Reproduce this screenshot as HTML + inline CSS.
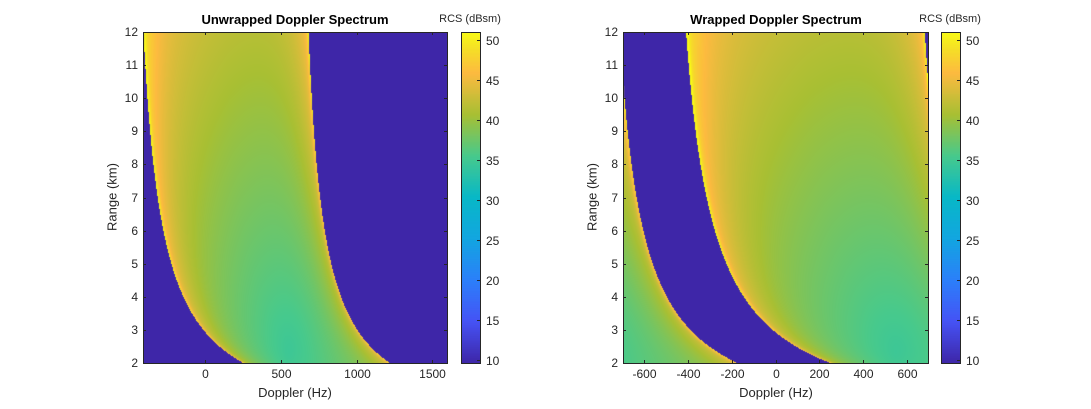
<!DOCTYPE html>
<html><head><meta charset="utf-8"><style>
html,body{margin:0;padding:0;background:#fff;}
#w{position:relative;width:1091px;height:409px;overflow:hidden;font-family:"Liberation Sans",Arial,sans-serif;color:#262626;}
canvas{position:absolute;}
.t{position:absolute;font-size:12px;white-space:nowrap;}
.ttl{position:absolute;font-size:13px;font-weight:bold;color:#000;white-space:nowrap;transform:translateX(-50%);}
.lab{position:absolute;font-size:13px;white-space:nowrap;transform:translateX(-50%);}
.yl{position:absolute;font-size:13px;white-space:nowrap;transform:translate(-50%,-50%) rotate(-90deg);}
.cbt{position:absolute;font-size:11px;white-space:nowrap;transform:translateX(-50%);}
</style></head><body><div id="w">
<canvas id="c1" style="left:143px;top:32px" width="304" height="331"></canvas>
<canvas id="c2" style="left:623px;top:32px" width="305" height="331"></canvas>
<canvas id="b1" style="left:461px;top:32px" width="19" height="331"></canvas>
<canvas id="b2" style="left:941px;top:32px" width="19" height="331"></canvas>
<svg id="ov" style="position:absolute;left:0;top:0" width="1091" height="409"></svg>
<div class="ttl" style="left:295px;top:12px">Unwrapped Doppler Spectrum</div>
<div class="ttl" style="left:776px;top:12px">Wrapped Doppler Spectrum</div>
<div class="cbt" style="left:470px;top:13px">RCS (dBsm)</div>
<div class="cbt" style="left:950px;top:13px">RCS (dBsm)</div>
<div class="lab" style="left:295px;top:385px">Doppler (Hz)</div>
<div class="lab" style="left:776px;top:385px">Doppler (Hz)</div>
<div class="yl" style="left:112px;top:197px">Range (km)</div>
<div class="yl" style="left:592px;top:197px">Range (km)</div>
<div id="labs"></div>
</div>
<script>
var stops=[[0,.2422,.1504,.6603],[.125,.2717,.3246,.9602],[.25,.17,.50,.98],[.375,.07,.65,.88],[.5,.03,.72,.78],[.625,.28,.79,.55],[.75,.66,.75,.20],[.875,.99,.73,.25],[.95,.96,.88,.15],[1,.977,.984,.081]];
function cmap(t){t=Math.max(0,Math.min(1,t));for(var i=1;i<stops.length;i++){if(t<=stops[i][0]){var a=stops[i-1],b=stops[i],u=(t-a[0])/(b[0]-a[0]);return [255*(a[1]+u*(b[1]-a[1])),255*(a[2]+u*(b[2]-a[2])),255*(a[3]+u*(b[3]-a[3]))];}}return [249,251,21];}
var VMIN=9.6,VMAX=51;
function Lf(r){return -541+1585/r;}
function Rf(r){return 575+1290/r;}
function val(f,r){var L=Lf(r),R=Rf(r);if(f<L||f>R)return null;var d=Math.min(f-L,R-f);
var base=34.5+6.8*Math.sqrt(Math.pow((f-550)/900,2)+Math.pow((r-2.3)/10,2));
return base+6*Math.exp(-d/8)+5*Math.exp(-d/110);}
function draw(id,fmin,fmax,wrap){var c=document.getElementById(id),ctx=c.getContext('2d'),W=c.width,H=c.height,img=ctx.createImageData(W,H),D=img.data;
for(var y=0;y<H;y++){var r=12-(y+0.5)/H*10;for(var x=0;x<W;x++){var f=fmin+(x+0.5)/W*(fmax-fmin);var v=null;
if(wrap){for(var k=-2;k<=2;k++){var vv=val(f+k*1394,r);if(vv!==null&&(v===null||vv>v))v=vv;}}else v=val(f,r);
if(v===null)v=VMIN;var col=cmap((v-VMIN)/(VMAX-VMIN));var p=4*(y*W+x);D[p]=col[0];D[p+1]=col[1];D[p+2]=col[2];D[p+3]=255;}}
ctx.putImageData(img,0,0);}
draw('c1',-412,1598,false);draw('c2',-697,697,true);
['b1','b2'].forEach(function(id){var c=document.getElementById(id),ctx=c.getContext('2d');for(var y=0;y<c.height;y++){var col=cmap(1-(y+0.5)/c.height);ctx.fillStyle='rgb('+col.map(Math.round).join(',')+')';ctx.fillRect(0,y,c.width,1);}});
var svg=document.getElementById('ov'),labs=document.getElementById('labs'),s='',h='';
function ln(x1,y1,x2,y2){s+='<line x1="'+x1+'" y1="'+y1+'" x2="'+x2+'" y2="'+y2+'" stroke="#262626" stroke-width="1"/>';}
function rect(x0,y0,x1,y1){s+='<rect x="'+(x0+.5)+'" y="'+(y0+.5)+'" width="'+(x1-x0)+'" height="'+(y1-y0)+'" fill="none" stroke="#262626" stroke-width="1"/>';}
function txt(x,y,t,al){h+='<div class="t" style="left:'+x+'px;top:'+y+'px;transform:translateX('+(al=='r'?'-100%':al=='c'?'-50%':'0')+')">'+t+'</div>';}
function yr(r){return 363-(r-2)*33.1;}
[[143,447,-412,1598,[0,500,1000,1500]],[623,928,-697,697,[-600,-400,-200,0,200,400,600]]].forEach(function(a){
var x0=a[0],x1=a[1];rect(x0,32,x1,363);
for(var r=2;r<=12;r++){var y=Math.round(yr(r))+.5;ln(x0,y,x0+3,y);ln(x1-3,y,x1,y);txt(x0-5,y-8,r,'r');}
a[4].forEach(function(f){var x=Math.round(x0+(f-a[2])/(a[3]-a[2])*(x1-x0))+.5;ln(x,363,x,360);ln(x,32,x,35);txt(x,367,f,'c');});});
[461,941].forEach(function(bx){rect(bx,32,bx+19,363);for(var v=10;v<=50;v+=5){var y=Math.round(363-(v-VMIN)/(VMAX-VMIN)*331)+.5;ln(bx+16,y,bx+19,y);txt(bx+25,y-7,v,'l');}});
svg.innerHTML=s;labs.innerHTML=h;
</script>
</body></html>
